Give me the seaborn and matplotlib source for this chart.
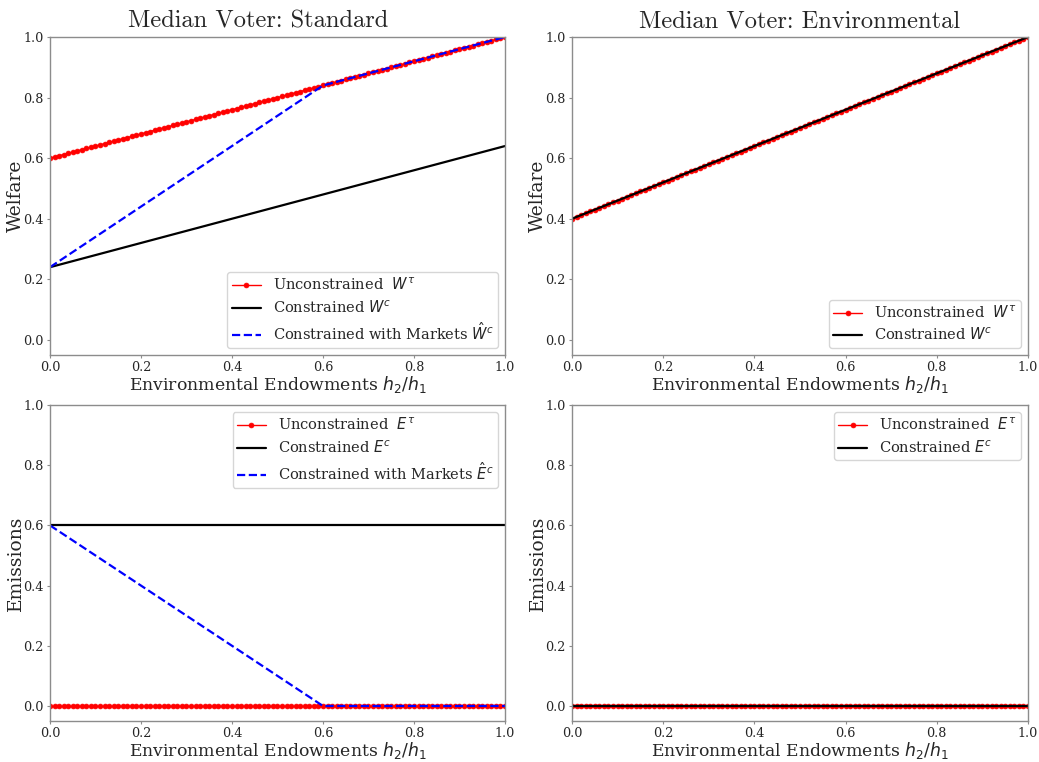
import matplotlib
matplotlib.use("Agg")
import matplotlib.pyplot as plt
import seaborn as sns

sns.set_theme(style="white")
plt.rcParams["font.family"] = ["DejaVu Serif"]
plt.rcParams["mathtext.fontset"] = "dejavusans"

# x grid shared by the marker series
h_ratio = [
    0.00, 0.01, 0.02, 0.03, 0.04, 0.05, 0.06, 0.07, 0.08, 0.09,
    0.10, 0.11, 0.12, 0.13, 0.14, 0.15, 0.16, 0.17, 0.18, 0.19,
    0.20, 0.21, 0.22, 0.23, 0.24, 0.25, 0.26, 0.27, 0.28, 0.29,
    0.30, 0.31, 0.32, 0.33, 0.34, 0.35, 0.36, 0.37, 0.38, 0.39,
    0.40, 0.41, 0.42, 0.43, 0.44, 0.45, 0.46, 0.47, 0.48, 0.49,
    0.50, 0.51, 0.52, 0.53, 0.54, 0.55, 0.56, 0.57, 0.58, 0.59,
    0.60, 0.61, 0.62, 0.63, 0.64, 0.65, 0.66, 0.67, 0.68, 0.69,
    0.70, 0.71, 0.72, 0.73, 0.74, 0.75, 0.76, 0.77, 0.78, 0.79,
    0.80, 0.81, 0.82, 0.83, 0.84, 0.85, 0.86, 0.87, 0.88, 0.89,
    0.90, 0.91, 0.92, 0.93, 0.94, 0.95, 0.96, 0.97, 0.98, 0.99,
    1.00,
]

# Standard median voter, unconstrained welfare
welfare_unc_std = [
    0.600, 0.604, 0.608, 0.612, 0.616, 0.620, 0.624, 0.628, 0.632, 0.636,
    0.640, 0.644, 0.648, 0.652, 0.656, 0.660, 0.664, 0.668, 0.672, 0.676,
    0.680, 0.684, 0.688, 0.692, 0.696, 0.700, 0.704, 0.708, 0.712, 0.716,
    0.720, 0.724, 0.728, 0.732, 0.736, 0.740, 0.744, 0.748, 0.752, 0.756,
    0.760, 0.764, 0.768, 0.772, 0.776, 0.780, 0.784, 0.788, 0.792, 0.796,
    0.800, 0.804, 0.808, 0.812, 0.816, 0.820, 0.824, 0.828, 0.832, 0.836,
    0.840, 0.844, 0.848, 0.852, 0.856, 0.860, 0.864, 0.868, 0.872, 0.876,
    0.880, 0.884, 0.888, 0.892, 0.896, 0.900, 0.904, 0.908, 0.912, 0.916,
    0.920, 0.924, 0.928, 0.932, 0.936, 0.940, 0.944, 0.948, 0.952, 0.956,
    0.960, 0.964, 0.968, 0.972, 0.976, 0.980, 0.984, 0.988, 0.992, 0.996,
    1.000,
]

# Environmental median voter, unconstrained welfare
welfare_unc_env = [
    0.400, 0.406, 0.412, 0.418, 0.424, 0.430, 0.436, 0.442, 0.448, 0.454,
    0.460, 0.466, 0.472, 0.478, 0.484, 0.490, 0.496, 0.502, 0.508, 0.514,
    0.520, 0.526, 0.532, 0.538, 0.544, 0.550, 0.556, 0.562, 0.568, 0.574,
    0.580, 0.586, 0.592, 0.598, 0.604, 0.610, 0.616, 0.622, 0.628, 0.634,
    0.640, 0.646, 0.652, 0.658, 0.664, 0.670, 0.676, 0.682, 0.688, 0.694,
    0.700, 0.706, 0.712, 0.718, 0.724, 0.730, 0.736, 0.742, 0.748, 0.754,
    0.760, 0.766, 0.772, 0.778, 0.784, 0.790, 0.796, 0.802, 0.808, 0.814,
    0.820, 0.826, 0.832, 0.838, 0.844, 0.850, 0.856, 0.862, 0.868, 0.874,
    0.880, 0.886, 0.892, 0.898, 0.904, 0.910, 0.916, 0.922, 0.928, 0.934,
    0.940, 0.946, 0.952, 0.958, 0.964, 0.970, 0.976, 0.982, 0.988, 0.994,
    1.000,
]

# unconstrained emissions are zero everywhere (both voters)
emissions_unc = [
    0.0, 0.0, 0.0, 0.0, 0.0, 0.0, 0.0, 0.0, 0.0, 0.0,
    0.0, 0.0, 0.0, 0.0, 0.0, 0.0, 0.0, 0.0, 0.0, 0.0,
    0.0, 0.0, 0.0, 0.0, 0.0, 0.0, 0.0, 0.0, 0.0, 0.0,
    0.0, 0.0, 0.0, 0.0, 0.0, 0.0, 0.0, 0.0, 0.0, 0.0,
    0.0, 0.0, 0.0, 0.0, 0.0, 0.0, 0.0, 0.0, 0.0, 0.0,
    0.0, 0.0, 0.0, 0.0, 0.0, 0.0, 0.0, 0.0, 0.0, 0.0,
    0.0, 0.0, 0.0, 0.0, 0.0, 0.0, 0.0, 0.0, 0.0, 0.0,
    0.0, 0.0, 0.0, 0.0, 0.0, 0.0, 0.0, 0.0, 0.0, 0.0,
    0.0, 0.0, 0.0, 0.0, 0.0, 0.0, 0.0, 0.0, 0.0, 0.0,
    0.0, 0.0, 0.0, 0.0, 0.0, 0.0, 0.0, 0.0, 0.0, 0.0,
    0.0,
]

# Constrained / market lines (only their break points)
x_line = [0.0, 1.0]
welfare_con_std = [0.24, 0.64]
welfare_con_env = [0.40, 1.00]
emissions_con_std = [0.6, 0.6]
emissions_con_env = [0.0, 0.0]

x_market = [0.0, 0.6, 1.0]
welfare_mkt_std = [0.24, 0.84, 1.00]
emissions_mkt_std = [0.6, 0.0, 0.0]

fig = plt.figure(figsize=(10.39, 7.62), dpi=100)
ax_tl = fig.add_axes([0.0481, 0.5341, 0.4379, 0.4173])
ax_tr = fig.add_axes([0.5505, 0.5341, 0.4389, 0.4173])
ax_bl = fig.add_axes([0.0481, 0.0538, 0.4379, 0.4147])
ax_br = fig.add_axes([0.5505, 0.0538, 0.4389, 0.4147])

unc_style = dict(color="red", marker="o", markersize=3.5, markeredgecolor="red",
                 markeredgewidth=0.5, linewidth=1.0, sort=False)

# top left
sns.lineplot(x=h_ratio, y=welfare_unc_std, ax=ax_tl, label=r"Unconstrained  $W^\tau$", **unc_style)
sns.lineplot(x=x_line, y=welfare_con_std, ax=ax_tl, color="black", linewidth=1.6, label=r"Constrained $W^c$")
sns.lineplot(x=x_market, y=welfare_mkt_std, ax=ax_tl, color="blue", linewidth=1.6,
             linestyle="--", label=r"Constrained with Markets $\hat{W}^c$")

# top right
sns.lineplot(x=h_ratio, y=welfare_unc_env, ax=ax_tr, label=r"Unconstrained  $W^\tau$", **unc_style)
sns.lineplot(x=x_line, y=welfare_con_env, ax=ax_tr, color="black", linewidth=1.6, label=r"Constrained $W^c$")

# bottom left
sns.lineplot(x=h_ratio, y=emissions_unc, ax=ax_bl, label=r"Unconstrained  $E^\tau$", **unc_style)
sns.lineplot(x=x_line, y=emissions_con_std, ax=ax_bl, color="black", linewidth=1.6, label=r"Constrained $E^c$")
sns.lineplot(x=x_market, y=emissions_mkt_std, ax=ax_bl, color="blue", linewidth=1.6,
             linestyle="--", label=r"Constrained with Markets $\hat{E}^c$")

# bottom right
sns.lineplot(x=h_ratio, y=emissions_unc, ax=ax_br, label=r"Unconstrained  $E^\tau$", **unc_style)
sns.lineplot(x=x_line, y=emissions_con_env, ax=ax_br, color="black", linewidth=1.6, label=r"Constrained $E^c$")

ax_tl.set_title("Median Voter: Standard", fontsize=17.6, family="cmr10", pad=7, x=0.458)
ax_tr.set_title("Median Voter: Environmental", fontsize=17.6, family="cmr10", pad=7)

for ax in [ax_tl, ax_tr, ax_bl, ax_br]:
    ax.set_xlim(0, 1)
    ax.set_ylim(-0.05, 1.0)
    ax.set_xticks([0.0, 0.2, 0.4, 0.6, 0.8, 1.0])
    ax.set_yticks([0.0, 0.2, 0.4, 0.6, 0.8, 1.0])
    ax.set_xlabel(r"Environmental Endowments $h_2/h_1$", fontsize=12.4, labelpad=0)
    ax.tick_params(axis="both", labelsize=9.2, length=2.5, width=0.8, color="0.55",
                   bottom=True, left=True, pad=2)
    for spine in ax.spines.values():
        spine.set_color("0.55")
        spine.set_linewidth(1.0)

ax_tl.set_ylabel("Welfare", fontsize=13.5, labelpad=-1)
ax_tr.set_ylabel("Welfare", fontsize=13.5, labelpad=-1)
ax_bl.set_ylabel("Emissions", fontsize=13.5, labelpad=-1)
ax_br.set_ylabel("Emissions", fontsize=13.5, labelpad=-1)

leg_kw = dict(fontsize=10.5, borderpad=0.3, labelspacing=0.4)
ax_tl.legend(loc="lower right", **leg_kw)
ax_tr.legend(loc="lower right", **leg_kw)
ax_bl.legend(loc="upper right", **leg_kw)
ax_br.legend(loc="upper right", **leg_kw)

fig.savefig("out.png", dpi=100)
